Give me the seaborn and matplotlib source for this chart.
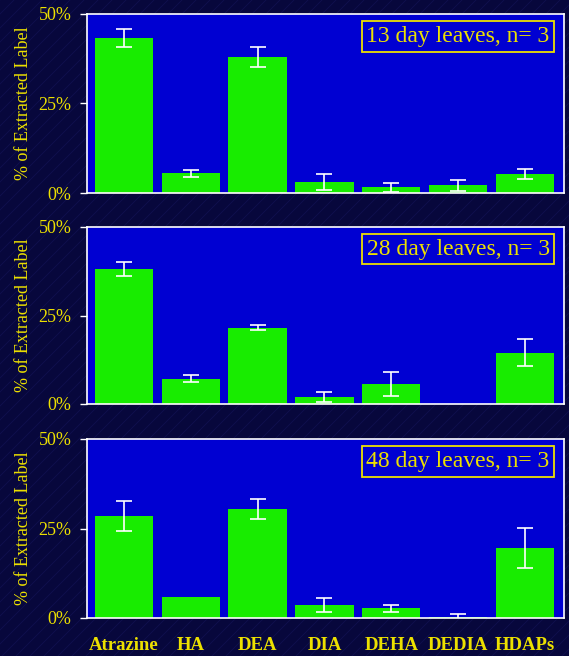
import matplotlib
matplotlib.use("Agg")
import matplotlib.pyplot as plt
from matplotlib.patches import Rectangle
import seaborn as sns
import pandas as pd
import numpy as np

# compounds on the x axis
compounds = ["Atrazine", "HA", "DEA", "DIA", "DEHA", "DEDIA", "HDAPs"]

# % of extracted label
panel_titles = ["13 day leaves, n= 3", "28 day leaves, n= 3", "48 day leaves, n= 3"]
day13_mean = [43.4, 5.5, 38.0, 3.0, 1.6, 2.1, 5.3]
day13_err = [2.5, 1.0, 2.9, 2.3, 1.2, 1.5, 1.4]
day28_mean = [38.1, 7.1, 21.5, 2.1, 5.7, 0.0, 14.5]
day28_err = [2.0, 1.0, 0.7, 1.4, 3.3, 0.0, 3.9]
day48_mean = [28.5, 5.8, 30.5, 3.6, 2.7, 0.2, 19.5]
day48_err = [4.2, 0.0, 2.8, 2.0, 0.9, 0.9, 5.6]

y_ticks = [0, 25, 50]
y_ticklabels = ["0%", "25%", "50%"]

BG = "#07073c"
PANEL = "#0000d2"
GREEN = "#18ec00"
YELLOW = "#ece000"

sns.set_theme(style="white")
plt.rcParams["font.family"] = ["Liberation Serif", "DejaVu Serif"]

fig = plt.figure(figsize=(5.69, 6.56), dpi=100, facecolor=BG)

# faint diagonal stripes in the slide background
bg = fig.add_axes([0, 0, 1, 1], zorder=-10)
bg.set_xlim(0, 569)
bg.set_ylim(0, 656)
bg.axis("off")
for c in np.arange(-656, 569, 14):
    bg.plot([c, c + 656], [0, 656], color="#15155a", lw=0.6, alpha=0.6)

# axes boxes in pixel coordinates (left, top, right, bottom)
W, H = 569, 656
boxes = [(87, 14, 564, 193), (87, 227, 564, 404), (87, 439, 564, 618)]

means = [day13_mean, day28_mean, day48_mean]
errs = [day13_err, day28_err, day48_err]

for i, (l, t, r, b) in enumerate(boxes):
    ax = fig.add_axes([l / W, 1 - b / H, (r - l) / W, (b - t) / H])
    ax.set_facecolor(PANEL)
    df = pd.DataFrame({"compound": compounds, "value": means[i], "err": errs[i]})
    sns.barplot(data=df, x="compound", y="value", color=GREEN, saturation=1,
                width=0.87, edgecolor="none", errorbar=None, ax=ax)
    has_err = df["err"] > 0
    ax.errorbar(df.index[has_err], df["value"][has_err], yerr=df["err"][has_err],
                fmt="none", ecolor="white", elinewidth=1.2, capsize=6, capthick=1.2,
                zorder=5)
    ax.set_xlim(-0.55, 6.58)
    ax.set_ylim(0, 50)
    ax.set_yticks(y_ticks)
    ax.set_yticklabels(y_ticklabels, color=YELLOW, fontsize=13)
    ax.tick_params(axis="y", left=True, length=5, width=1, color="white", pad=6)
    ax.set_ylabel("% of Extracted Label", color=YELLOW, fontsize=13, labelpad=5)
    ax.set_xlabel("")
    for s in ax.spines.values():
        s.set_color("white")
        s.set_linewidth(1.2)
    if i == 2:
        ax.set_xticks(range(len(compounds)))
        ax.set_xticklabels(compounds, color=YELLOW, fontsize=13.5, fontweight="bold")
        ax.tick_params(axis="x", bottom=False, pad=8)
    else:
        ax.set_xticklabels([])
        ax.tick_params(axis="x", bottom=False)
    ax.add_patch(Rectangle((0.5765, 0.79), 0.4025, 0.171, transform=ax.transAxes,
                           facecolor="none", edgecolor=YELLOW, lw=1.3, zorder=6))
    ax.text(0.778, 0.872, panel_titles[i], transform=ax.transAxes, ha="center",
            va="center", color=YELLOW, fontsize=17, zorder=7)

fig.savefig("out.png", dpi=100, facecolor=BG)
